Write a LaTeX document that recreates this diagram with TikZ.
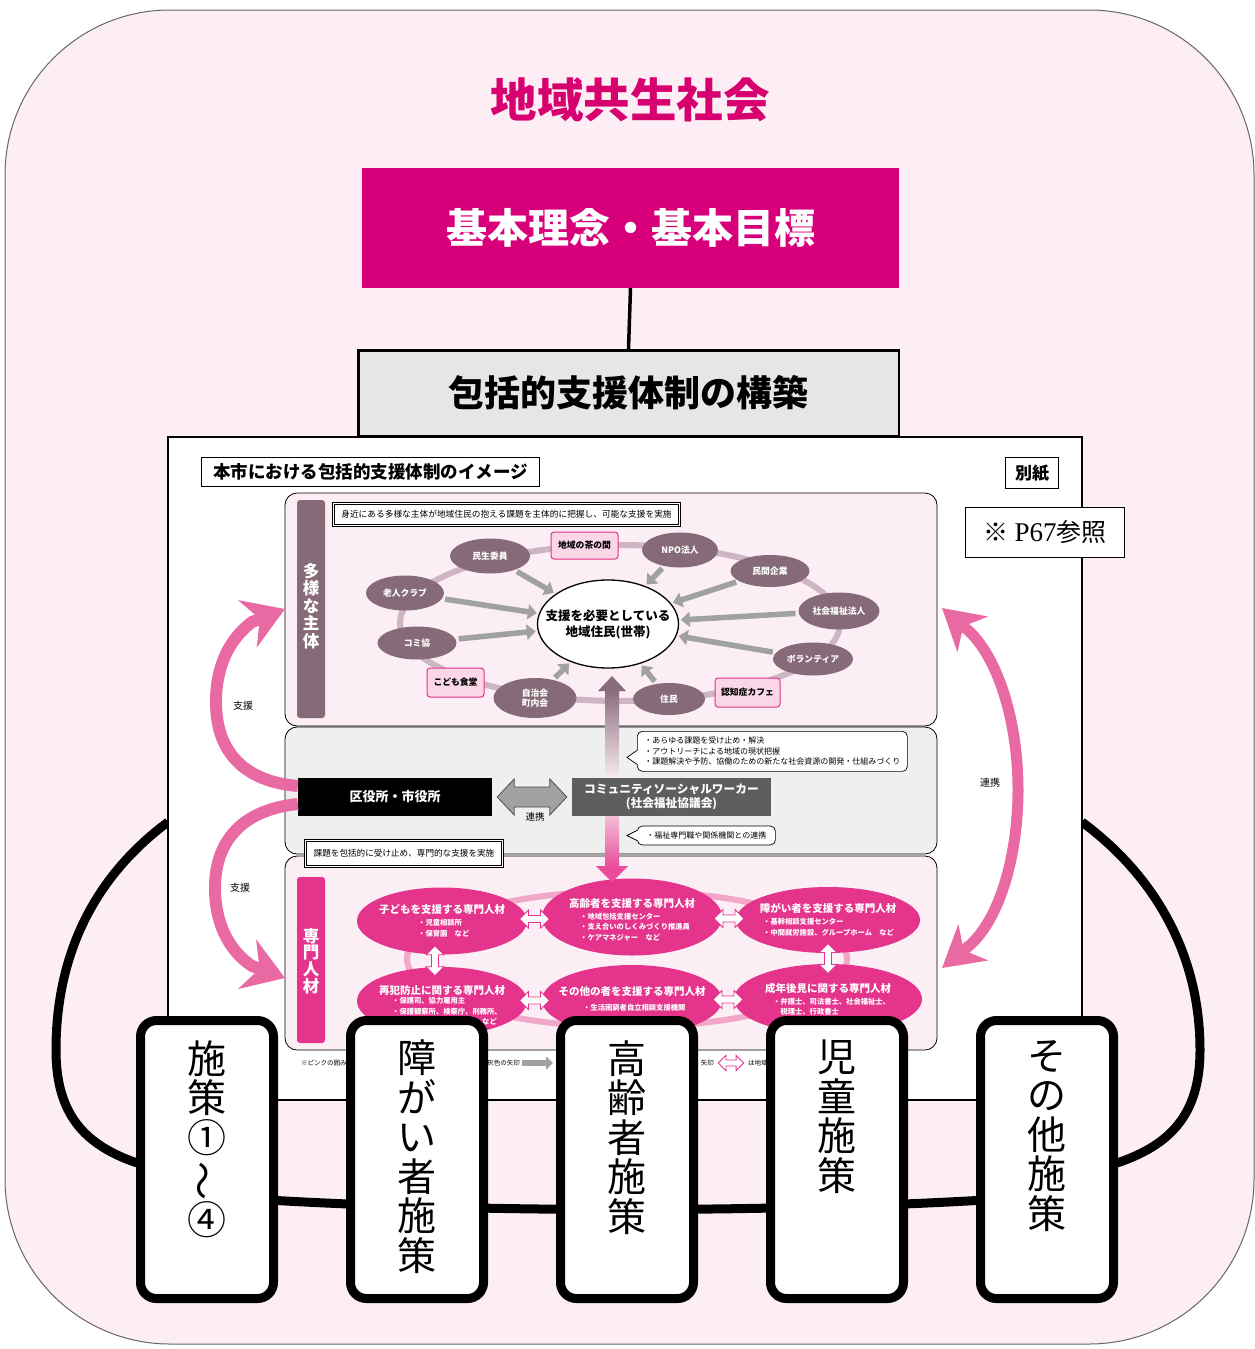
\documentclass[tikz,border=0pt]{standalone}
\usepackage{fontspec}
\setmainfont{Noto Sans CJK JP}
\newfontfamily\latinserif{Liberation Serif}
\usetikzlibrary{arrows.meta,calc,shapes.geometric}
\definecolor{titlemag}{HTML}{D6006F}
\definecolor{boxmag}{HTML}{D7007A}
\definecolor{bgpink}{HTML}{FDEEF5}
\definecolor{panelpink}{HTML}{FBEEF4}
\definecolor{midgray}{HTML}{EFEFEF}
\definecolor{mauve}{HTML}{866A78}
\definecolor{ringmauve}{HTML}{CDB6C2}
\definecolor{arrgray}{HTML}{A0A2A0}
\definecolor{pinkfill}{HTML}{FAD6E7}
\definecolor{pinkline}{HTML}{E5338C}
\definecolor{lowmag}{HTML}{E4348C}
\definecolor{lowring}{HTML}{F2A6C8}
\definecolor{arcpink}{HTML}{E96AA2}
\definecolor{cswgray}{HTML}{5E5E5E}
\definecolor{hdgray}{HTML}{E6E6E6}
\definecolor{vtopc}{HTML}{8A6D7C}
\definecolor{vmid}{HTML}{FBEEF4}
\definecolor{vlowa}{HTML}{F5C2DA}
\definecolor{vlowb}{HTML}{E84C9A}
\tikzset{
  wdarr/.pic={\draw[pinkline, fill=white, line width=0.8pt] (-15,0) -- (-6,-9) -- (-6,-3.5) -- (6,-3.5) -- (6,-9) -- (15,0) -- (6,9) -- (6,3.5) -- (-6,3.5) -- (-6,9) -- cycle;}
}
\begin{document}
\begin{tikzpicture}[x=1pt,y=-1pt,
  ringnode/.style={ellipse, fill=mauve, inner sep=0pt},
  ringlabel/.style={text=white, font=\bfseries\fontsize{8.8}{10}\selectfont, align=center},
  grayarr/.style={draw=arrgray, line width=5.5pt, -{Triangle[length=9pt,width=15pt]}, shorten <=3pt, shorten >=2pt},
  pinkbox/.style={draw=pinkline, line width=1pt, fill=pinkfill, rounded corners=3pt, font=\bfseries\fontsize{8.8}{10}\selectfont, inner sep=0pt},
  lowell/.style={ellipse, fill=lowmag, inner sep=0pt},
  lowtitle/.style={text=white, font=\bfseries\fontsize{10.5}{12}\selectfont, inner sep=0pt},
  lowsub/.style={text=white, font=\bfseries\fontsize{7.3}{10.5}\selectfont, align=left, anchor=north west, inner sep=0pt},
  panel/.style={draw, line width=0.8pt, rounded corners=12pt, minimum width=652pt, inner sep=0pt},
  arcarrow/.style={draw=arcpink, line width=12pt},
  loopline/.style={line width=9pt},
  sbox/.style={draw, line width=9pt, fill=white, rounded corners=16pt, minimum width=133pt, minimum height=278pt, inner sep=0pt},
  stext/.style={font=\fontsize{39}{39.5}\selectfont, align=center, anchor=north, inner sep=0pt},
  notebox/.style={draw, double=white, double distance=1.6pt, line width=1pt, fill=white, inner sep=0pt},
  callout/.style={draw, line width=0.7pt, fill=white, rounded corners=5pt, align=left, font=\fontsize{8}{10.5}\selectfont, inner sep=4pt},
  smalllabel/.style={font=\fontsize{10}{12}\selectfont, inner sep=0pt},
  fnote/.style={font=\fontsize{6.5}{8}\selectfont, inner sep=0pt}
]
\useasboundingbox (0,0) rectangle (1255,1349);
\fill[white] (0,0) rectangle (1255,1349);
\draw[draw=black!60, line width=1pt, fill=bgpink, rounded corners=165pt] (5,10) rectangle (1254,1344);

% black loop behind the image
\coordinate (lp1) at (168,822); \coordinate (lp2) at (137,1163);
\coordinate (rp1) at (1082,822); \coordinate (rp2) at (1117,1163);
\coordinate (bp1) at (207,1196); \coordinate (bp2) at (1047,1196);
\draw[loopline] (lp1) .. controls (90,880) and (56,960) .. (56,1050) .. controls (56,1115) and (85,1145) .. (lp2);
\draw[loopline] (rp1) .. controls (1160,880) and (1200,960) .. (1200,1050) .. controls (1200,1115) and (1170,1145) .. (rp2);
\draw[loopline] (bp1) .. controls (450,1214) and (800,1214) .. (bp2);

% inner image
\node[draw, line width=1.2pt, fill=white, minimum width=914pt, minimum height=663pt, inner sep=0pt] (inner) at (625,768.5) {};

% titles
\node[text=titlemag, font=\bfseries\fontsize{46.5}{50}\selectfont] (title) at (630,100) {地域共生社会};
\node[fill=boxmag, text=white, minimum width=537pt, minimum height=120pt, font=\bfseries\fontsize{41}{44}\selectfont] (kihon) at (630.5,228) {基本理念・基本目標};
\node[draw, line width=2.5pt, fill=hdgray, minimum width=540.5pt, minimum height=85.5pt, font=\bfseries\fontsize{36}{40}\selectfont] (kochiku) at (628.5,393) {包括的支援体制の構築};
\draw[line width=3.5pt] (kihon.south) -- (kochiku.north);

% image header
\node[draw, line width=0.9pt, minimum width=338pt, minimum height=29pt, inner sep=0pt, font=\bfseries\fontsize{17.5}{20}\selectfont] (imgtitle) at (370.5,472) {本市における包括的支援体制のイメージ};
\node[draw, line width=0.9pt, minimum width=53pt, minimum height=31pt, inner sep=0pt, font=\bfseries\fontsize{17}{20}\selectfont] (bessi) at (1032,473) {別紙};

% panels
\node[panel, fill=panelpink, minimum height=233pt] (ptop) at (611,609.5) {};
\node[panel, fill=midgray, minimum height=127pt] (pmid) at (611,790.5) {};
\node[panel, fill=panelpink, minimum height=194pt] (plow) at (611,953) {};

% ---- top panel
\node[fill=mauve, rounded corners=3pt, minimum width=28pt, minimum height=218pt, inner sep=0pt] (bartop) at (311,609) {};
\node[text=white, font=\bfseries\fontsize{16.5}{17.5}\selectfont, align=center, inner sep=0pt] (bartoptxt) at (311,606) {多\\様\\な\\主\\体};
\node[notebox, minimum width=346pt, minimum height=22pt, font=\fontsize{8.7}{10}\selectfont] (topnote) at (506.5,514.5) {身近にある多様な主体が地域住民の抱える課題を主体的に把握し、可能な支援を実施};

\draw[ringmauve, line width=6pt] (620,623) ellipse [x radius=220pt, y radius=78pt];

\node[ringnode, minimum width=80pt, minimum height=35pt, label={[ringlabel]center:民生委員}] (minsei) at (490,556) {};
\node[ringnode, minimum width=76pt, minimum height=35pt, label={[ringlabel]center:NPO法人}] (npo) at (680,550) {};
\node[ringnode, minimum width=79pt, minimum height=32pt, label={[ringlabel]center:民間企業}] (minkan) at (770,571) {};
\node[ringnode, minimum width=81pt, minimum height=37pt, label={[ringlabel]center:社会福祉法人}] (shafuku) at (839,611) {};
\node[ringnode, minimum width=80pt, minimum height=33pt, label={[ringlabel]center:ボランティア}] (vol) at (813,659) {};
\node[ringnode, minimum width=72pt, minimum height=32pt, label={[ringlabel]center:住民}] (jumin) at (669,699) {};
\node[ringnode, minimum width=83pt, minimum height=40pt, label={[ringlabel]center:自治会\\町内会}] (jichi) at (535,698) {};
\node[ringnode, minimum width=79pt, minimum height=33pt, label={[ringlabel]center:コミ協}] (komi) at (417,643) {};
\node[ringnode, minimum width=78pt, minimum height=35pt, label={[ringlabel]center:老人クラブ}] (rojin) at (405,593) {};

\node[ellipse, draw, line width=1.3pt, fill=white, minimum width=141pt, minimum height=88pt, inner sep=0pt, label={[font=\bfseries\fontsize{12.5}{16}\selectfont, align=center]center:支援を必要としている\\地域住民(世帯)}] (needs) at (608,624) {};

\draw[grayarr] (minsei) -- (needs);
\draw[grayarr] (rojin) -- (needs);
\draw[grayarr] (komi) -- (needs);
\draw[grayarr] (jichi) -- (needs);
\draw[grayarr] (jumin) -- (needs);
\draw[grayarr] (npo) -- (needs);
\draw[grayarr] (minkan) -- (needs);
\draw[grayarr] (shafuku) -- (needs);
\draw[grayarr] (vol) -- (needs);

\node[pinkbox, minimum width=67pt, minimum height=27pt] (chanoma) at (584.5,545.5) {地域の茶の間};
\node[pinkbox, minimum width=57pt, minimum height=29pt] (shokudo) at (455.5,682.5) {こども食堂};
\node[pinkbox, minimum width=65pt, minimum height=29pt] (cafe) at (747.5,692.5) {認知症カフェ};

% ---- lower panel
\node[fill=lowmag, rounded corners=3pt, minimum width=28pt, minimum height=166pt, inner sep=0pt] (barlow) at (311,960) {};
\node[text=white, font=\bfseries\fontsize{16.5}{16.7}\selectfont, align=center, inner sep=0pt] (barlowtxt) at (311,961) {専\\門\\人\\材};

\draw[lowring, line width=6pt] (627,959) ellipse [x radius=220pt, y radius=68pt];

\node[lowell, minimum width=170pt, minimum height=67pt] (kodomo) at (442,921) {};
\node[lowell, minimum width=180pt, minimum height=77pt] (koreisha) at (632,917) {};
\node[lowell, minimum width=184pt, minimum height=66pt] (shogai) at (828,920) {};
\node[lowell, minimum width=170pt, minimum height=68pt] (saihan) at (442,1001) {};
\node[lowell, minimum width=180pt, minimum height=70pt] (sonota) at (632,1000) {};
\node[lowell, minimum width=188pt, minimum height=70pt] (seinen) at (828,999) {};

\node[lowtitle] (kodomoT) at (442,910) {子どもを支援する専門人材};
\node[lowsub] (kodomoS) at (418,919.5) {・児童相談所\\・保育園　など};
\node[lowtitle] (koreishaT) at (632,903) {高齢者を支援する専門人材};
\node[lowsub] (koreishaS) at (580,913) {・地域包括支援センター\\・支え合いのしくみづくり推進員\\・ケアマネジャー　など};
\node[lowtitle] (shogaiT) at (828,908) {障がい者を支援する専門人材};
\node[lowsub] (shogaiS) at (763,918.5) {・基幹相談支援センター\\・中間就労施設、グループホーム　など};
\node[lowtitle] (saihanT) at (442,990) {再犯防止に関する専門人材};
\node[lowsub] (saihanS) at (392,997.5) {・保護司、協力雇用主\\・保護観察所、検察庁、刑務所、\\\hspace*{90pt}など};
\node[lowtitle] (sonotaT) at (632,992) {その他の者を支援する専門人材};
\node[lowsub] (sonotaS) at (583,1004) {・生活困窮者自立相談支援機関};
\node[lowtitle] (seinenT) at (828,988) {成年後見に関する専門人材};
\node[lowsub] (seinenS) at (773,997.5) {・弁護士、司法書士、社会福祉士、\\　税理士、行政書士};

\pic at ($(kodomo.east)!0.5!(koreisha.west)$) {wdarr};
\pic at ($(koreisha.east)!0.5!(shogai.west)$) {wdarr};
\pic at ($(saihan.east)!0.5!(sonota.west)$) {wdarr};
\pic at ($(sonota.east)!0.5!(seinen.west)$) {wdarr};
\pic[rotate=90] at ($(kodomo.south)!0.5!(saihan.north)+(-7,0)$) {wdarr};
\pic[rotate=90] at ($(shogai.south)!0.5!(seinen.north)$) {wdarr};

\node[notebox, minimum width=197pt, minimum height=26pt, font=\fontsize{8.6}{10}\selectfont] (lownote) at (404,853.5) {課題を包括的に受け止め、専門的な支援を実施};

% ---- vertical gradient arrow
\coordinate (vtop) at (612,676);
\coordinate (vbot) at (612,882);
\shade[top color=vtopc, bottom color=vmid] (605,690) rectangle (619,780);
\shade[top color=vlowa, bottom color=vlowb] (605,814) rectangle (619,867);
\fill[vtopc] (598,691) -- (vtop) -- (626,691) -- cycle;
\fill[vlowb] (596,866) -- (vbot) -- (628,866) -- cycle;

% ---- middle panel
\node[fill=black, text=white, minimum width=194pt, minimum height=38pt, inner sep=0pt, font=\bfseries\fontsize{13}{15}\selectfont] (kuya) at (395,797) {区役所・市役所};
\node[fill=cswgray, text=white, minimum width=199pt, minimum height=38pt, inner sep=0pt, align=center, font=\bfseries\fontsize{11.7}{13.5}\selectfont] (csw) at (671.5,797) {コミュニティソーシャルワーカー\\(社会福祉協議会)};

\coordinate (da1) at ($(kuya.east)+(5,0)$);
\coordinate (da2) at ($(csw.west)+(-5,0)$);
\draw[draw=black!70, line width=0.8pt, fill=arrgray] (da1) -- ++(17,-18) -- ++(0,8) -- ($(da2)+(-17,-10)$) -- ++(0,-8) -- (da2) -- ++(-17,18) -- ++(0,-8) -- ($(da1)+(17,10)$) -- ++(0,8) -- cycle;
\node[font=\fontsize{9.5}{11}\selectfont, inner sep=0pt] (renkei) at (535,817) {連携};

\node[callout, anchor=north west, minimum width=270pt, minimum height=40pt] (call1) at (637,731) {・あらゆる課題を受け止め・解決\\・アウトリーチによる地域の現状把握\\・課題解決や予防、協働のための新たな社会資源の開発・仕組みづくり};
\fill[white] ($(call1.west)+(1,-1)$) -- ($(call1.west)+(-10,6)$) -- ($(call1.west)+(1,13)$) -- cycle;
\draw[line width=0.7pt] ($(call1.west)+(0,-1)$) -- ($(call1.west)+(-10,6)$) -- ($(call1.west)+(0,13)$);

\node[callout, anchor=west, minimum width=138pt, minimum height=19pt, inner sep=2pt] (call2) at (637,835.5) {・福祉専門職や関係機関との連携};
\fill[white] ($(call2.west)+(1,-5)$) -- ($(call2.west)+(-10,0)$) -- ($(call2.west)+(1,5)$) -- cycle;
\draw[line width=0.7pt] ($(call2.west)+(0,-5)$) -- ($(call2.west)+(-10,0)$) -- ($(call2.west)+(0,5)$);

% ---- pink arcs
\coordinate (tTop) at (285,609);
\coordinate (tLow) at (285,978);
\coordinate (rTop) at (942,608);
\coordinate (rBot) at (942,968);
\draw[arcarrow, -{Stealth[length=40pt,width=50pt,inset=13pt]}] ($(kuya.west)+(0,-11)$) .. controls (240,781) and (216,748) .. (216,702) .. controls (216,668) and (228,640) .. (252,622) -- (tTop);
\draw[arcarrow, -{Stealth[length=40pt,width=52pt,inset=13pt]}] ($(kuya.west)+(0,7)$) .. controls (240,810) and (215,843) .. (215,888) .. controls (215,922) and (228,950) .. (252,966) -- (tLow);
\draw[arcarrow, line width=11pt, {Stealth[length=40pt,width=46pt,inset=12pt]}-{Stealth[length=40pt,width=46pt,inset=12pt]}] (rTop) -- (970,632) .. controls (1000,662) and (1018,725) .. (1018,790) .. controls (1018,855) and (1000,918) .. (970,945) -- (rBot);
\node[smalllabel] (shien1) at (243,706) {支援};
\node[smalllabel] (shien2) at (240,888) {支援};
\node[smalllabel] (renkei2) at (990,783) {連携};

% ---- footnote fragments
\node[fnote, anchor=west] (fn1) at (301,1063) {※ピンクの囲み};
\node[fnote, anchor=east] (fn2) at (520,1063) {灰色の矢印};
\coordinate (fga) at (522,1063); \coordinate (fgb) at (553,1063);
\draw[draw=arrgray, line width=6pt, -{Triangle[length=7pt,width=13pt]}] (fga) -- (fgb);
\node[fnote, anchor=east] (fn3) at (714,1063) {矢印};
\pic[scale=0.85] at (731,1063) {wdarr};
\node[fnote, anchor=west] (fn4) at (748,1063) {は地域};

% ---- bottom boxes
\node[sbox] (s1) at (207,1159.5) {};
\node[sbox] (s2) at (417,1159.5) {};
\node[sbox] (s3) at (627,1159.5) {};
\node[sbox] (s4) at (837,1159.5) {};
\node[sbox] (s5) at (1047,1159.5) {};
\node[stext] (s1t) at (207,1040) {施\\策\\①\\\rotatebox[origin=c]{90}{～}\\④};
\node[stext] (s2t) at (417,1040) {障\\が\\い\\者\\施\\策};
\node[stext] (s3t) at (627,1040) {高\\齢\\者\\施\\策};
\node[stext] (s4t) at (837,1040) {児\\童\\施\\策};
\node[stext] (s5t) at (1047,1040) {そ\\の\\他\\施\\策};

% ---- P67 box
\node[draw, line width=0.9pt, fill=white, minimum width=159pt, minimum height=50pt, inner sep=0pt, font=\fontsize{25}{28}\selectfont] (p67) at (1045,532.5) {※\hspace{6pt}{\latinserif\fontsize{27}{28}\selectfont P67}参照};
\end{tikzpicture}
\end{document}
